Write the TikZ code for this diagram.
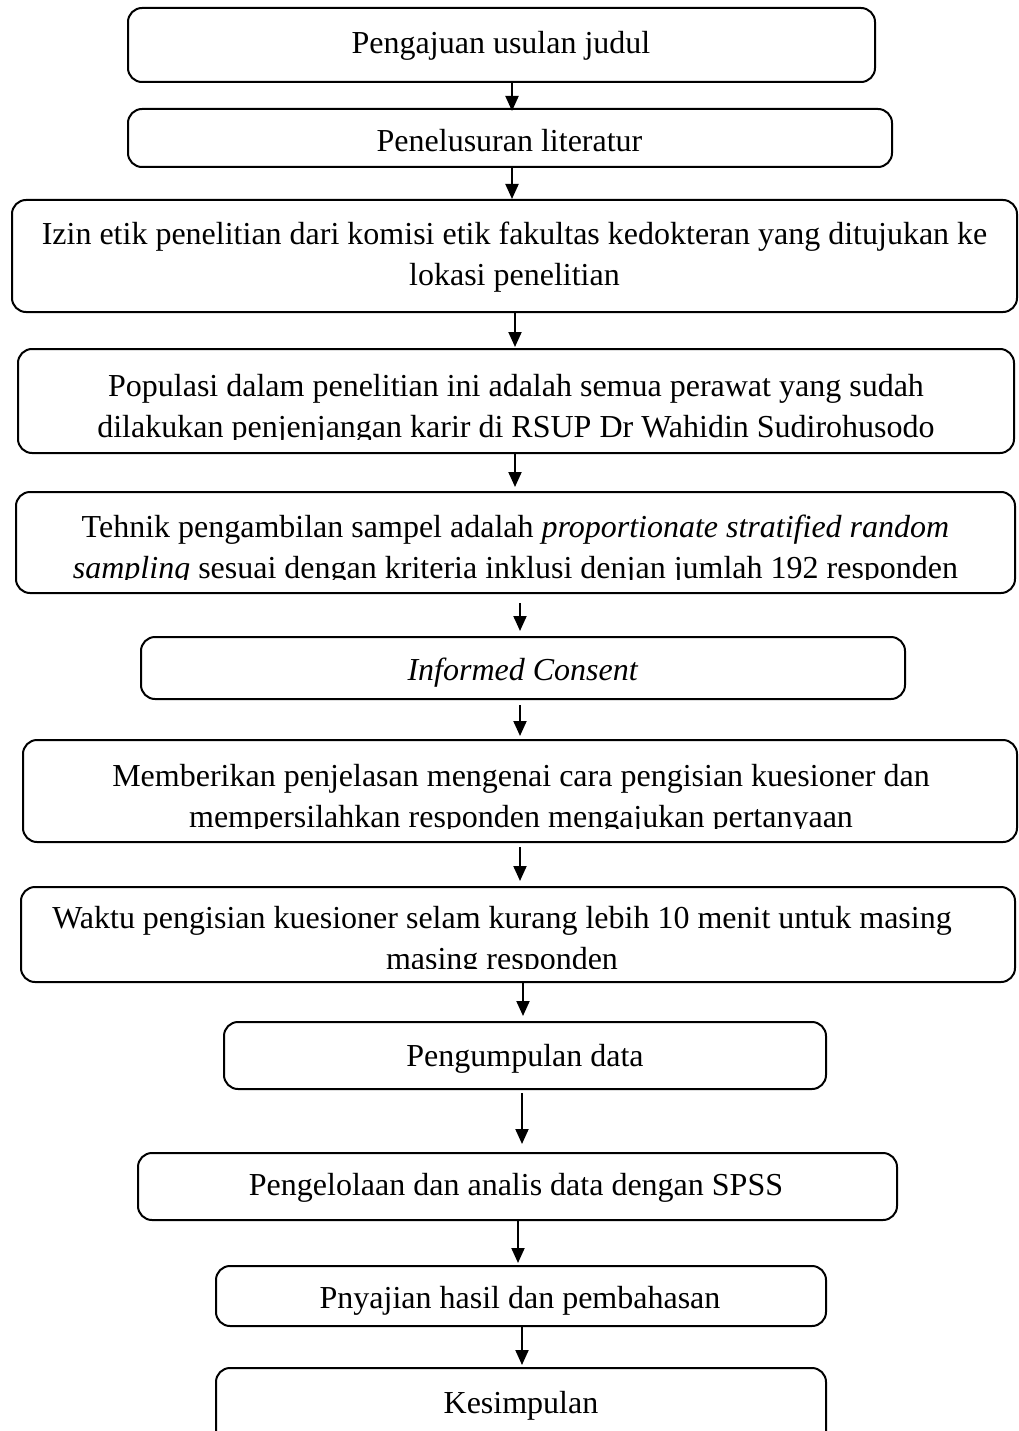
\documentclass[tikz,border=0pt]{standalone}
\usepackage{fontspec}
\setmainfont{Liberation Serif}
\usetikzlibrary{arrows.meta}
\tikzset{
  box/.style={draw, line width=2pt, rounded corners=14pt, inner sep=0pt, fill=none},
  txt/.style={align=center, inner sep=0pt, font=\fontsize{32}{41}\selectfont},
  arr/.style={line width=2pt, -{Triangle[length=15pt,width=13pt]}}
}
\newcommand\cliptext[4]{%
  \begin{scope}
    \clip ([yshift=15pt]#1.south west) rectangle (#1.north east);
    \node[txt] (t#1) at (#2,#3) {#4};
  \end{scope}}
\newcommand\plaintext[4]{\node[txt] (t#1) at (#2,#3) {#4};}
\begin{document}
\begin{tikzpicture}[x=1pt,y=-1pt]
\useasboundingbox[fill=white] (0,0) rectangle (1019,1431);
% boxes
\node[box, minimum width=747pt, minimum height=74pt]  (b1)  at (501.5,45) {};
\node[box, minimum width=764pt, minimum height=58pt]  (b2)  at (510,138) {};
\node[box, minimum width=1005pt, minimum height=112pt] (b3) at (514.5,256) {};
\node[box, minimum width=996pt, minimum height=104pt] (b4)  at (516,401) {};
\node[box, minimum width=999pt, minimum height=101pt] (b5)  at (515.5,542.5) {};
\node[box, minimum width=764pt, minimum height=62pt]  (b6)  at (523,668) {};
\node[box, minimum width=994pt, minimum height=102pt] (b7)  at (520,791) {};
\node[box, minimum width=994pt, minimum height=95pt]  (b8)  at (518,934.5) {};
\node[box, minimum width=602pt, minimum height=67pt]  (b9)  at (525,1055.5) {};
\node[box, minimum width=759pt, minimum height=67pt]  (b10) at (517.5,1186.5) {};
\node[box, minimum width=610pt, minimum height=60pt]  (b11) at (521,1296) {};
\node[box, minimum width=610pt, minimum height=102pt] (b12) at (521,1419) {};
% texts
\plaintext{b1}{501}{46}{Pengajuan usulan judul}
\plaintext{b2}{509.5}{141}{Penelusuran literatur}
\plaintext{b3}{514.5}{257}{Izin etik penelitian dari komisi etik fakultas kedokteran yang ditujukan ke\\lokasi penelitian}
\cliptext{b4}{516}{409}{Populasi dalam penelitian ini adalah semua perawat yang sudah\\dilakukan penjenjangan karir di RSUP Dr Wahidin Sudirohusodo}
\cliptext{b5}{515.5}{550}{Tehnik pengambilan sampel adalah \textit{proportionate stratified random}\\\textit{sampling} sesuai dengan kriteria inklusi denjan jumlah 192 responden}
\plaintext{b6}{523}{673}{\textit{Informed Consent}}
\cliptext{b7}{521}{799}{Memberikan penjelasan mengenai cara pengisian kuesioner dan\\mempersilahkan responden mengajukan pertanyaan}
\cliptext{b8}{502}{941}{Waktu pengisian kuesioner selam kurang lebih 10 menit untuk masing\\masing responden}
\plaintext{b9}{525}{1059}{Pengumpulan data}
\plaintext{b10}{516}{1188}{Pengelolaan dan analis data dengan SPSS}
\plaintext{b11}{520}{1301}{Pnyajian hasil dan pembahasan}
\plaintext{b12}{521}{1406}{Kesimpulan}
% arrows
\draw[arr, shorten >=-3pt] (b1.south -| 512,0) -- (b2.north -| 512,0);
\draw[arr] (b2.south -| 512,0) -- (b3.north -| 512,0);
\draw[arr, shorten >=1pt] (b3.south -| 515,0) -- (b4.north -| 515,0);
\draw[arr, shorten >=4pt] (b4.south -| 515,0) -- (b5.north -| 515,0);
\draw[arr, shorten <=9pt, shorten >=5pt] (b5.south -| 520,0) -- (b6.north -| 520,0);
\draw[arr, shorten <=5pt, shorten >=3pt] (b6.south -| 520,0) -- (b7.north -| 520,0);
\draw[arr, shorten <=4pt, shorten >=5pt] (b7.south -| 520,0) -- (b8.north -| 520,0);
\draw[arr, shorten >=5pt] (b8.south -| 523,0) -- (b9.north -| 523,0);
\draw[arr, shorten <=3pt, shorten >=8pt] (b9.south -| 522,0) -- (b10.north -| 522,0);
\draw[arr, shorten >=2pt] (b10.south -| 518,0) -- (b11.north -| 518,0);
\draw[arr, shorten >=2pt] (b11.south -| 522,0) -- (b12.north -| 522,0);
\end{tikzpicture}
\end{document}
